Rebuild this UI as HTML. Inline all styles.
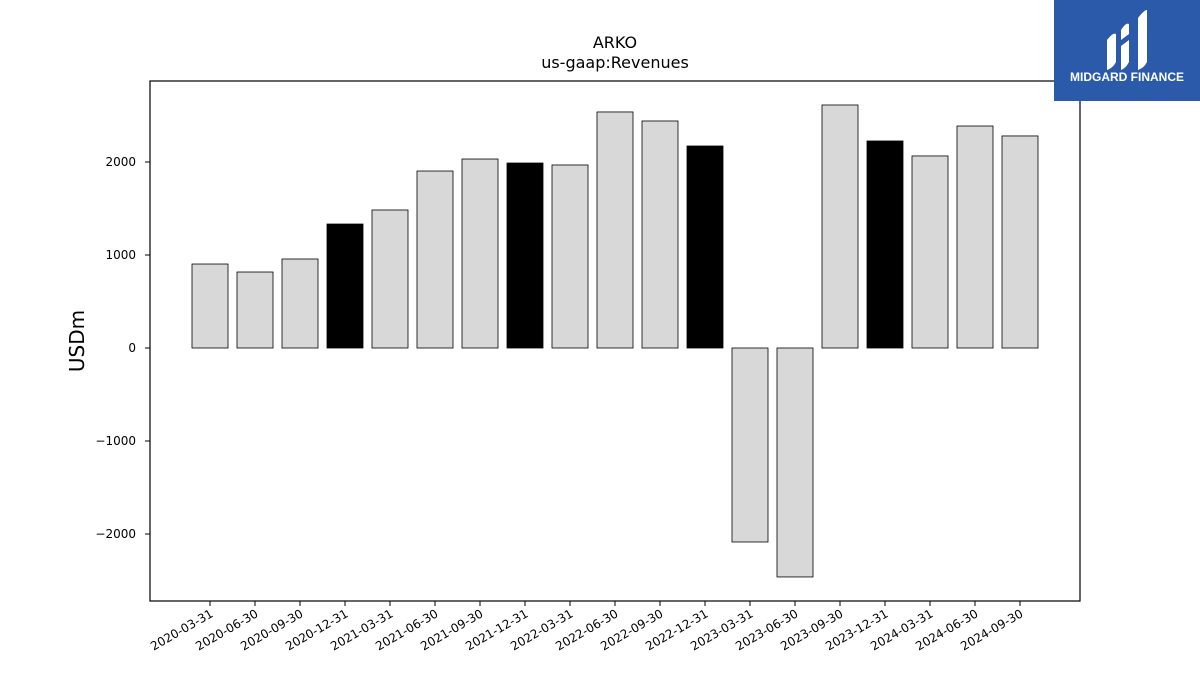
<!DOCTYPE html>
<html><head><meta charset="utf-8"><style>
body{margin:0;background:#fff;font-family:"Liberation Sans","DejaVu Sans",sans-serif}
</style></head><body>
<svg width="1200" height="675" xmlns="http://www.w3.org/2000/svg">
<rect width="1200" height="675" fill="#fff"/>
<text x="615" y="48" text-anchor="middle" font-size="16" font-family="DejaVu Sans, sans-serif">ARKO</text>
<text x="615" y="68" text-anchor="middle" font-size="16" font-family="DejaVu Sans, sans-serif">us-gaap:Revenues</text>
<text transform="translate(84,341) rotate(-90)" text-anchor="middle" font-size="20" font-family="DejaVu Sans, sans-serif">USDm</text>
<g id="bars"></g>
<g id="axes"></g>
<rect x="150" y="81" width="930" height="520" fill="none" stroke="#000" stroke-width="1.2"/>
<g>
<rect x="1054" y="0" width="146" height="101" fill="#2b5aab"/>
<path d="M1107 40 q6-8 9-6 v28 q-3 6-9 8 z M1121 30 q5-8 8-6 v10 l-8 6z M1121 46 l8-6 v22 q-3 6-8 8z M1138 18 q6-8 9-8 v52 q-3 6-9 8z" fill="#fff"/>
<text x="1127" y="81" text-anchor="middle" font-size="12" font-weight="bold" fill="#fff">MIDGARD FINANCE</text>
</g>
</svg>
<script>
const categories=["2020-03-31","2020-06-30","2020-09-30","2020-12-31","2021-03-31","2021-06-30","2021-09-30","2021-12-31","2022-03-31","2022-06-30","2022-09-30","2022-12-31","2023-03-31","2023-06-30","2023-09-30","2023-12-31","2024-03-31","2024-06-30","2024-09-30"];
const values=[903,817,957,1333,1484,1903,2032,1989,1968,2538,2441,2172,-2086,-2462,2613,2226,2065,2387,2280];
const highlighted=[false,false,false,true,false,false,false,true,false,false,false,true,false,false,false,true,false,false,false];
const yTicks=[-2000,-1000,0,1000,2000];
const yTickLabels=["\u22122000","\u22121000","0","1000","2000"];
const NS="http://www.w3.org/2000/svg";
const y=v=>348-v*0.093;
const x=i=>210+i*45;
const bars=document.getElementById('bars'),axes=document.getElementById('axes');
function mk(t,a,p){const e=document.createElementNS(NS,t);for(const k in a)e.setAttribute(k,a[k]);p.appendChild(e);return e;}
values.forEach((v,i)=>{
 const r=mk('rect',{x:x(i)-18,y:Math.min(y(v),y(0)),width:36,height:Math.abs(y(v)-y(0)),fill:highlighted[i]?'#000':'#d8d8d8',stroke:'#000','stroke-width':0.8},bars);
 
 
 const tk=mk('line',{x1:x(i),x2:x(i),y1:601,y2:606,stroke:'#000'},axes);
 
 
 const t=mk('text',{transform:`translate(${x(i)+4},616) rotate(-30)`,'text-anchor':'end','font-size':12,'font-family':'DejaVu Sans, sans-serif'},axes);
 t.textContent=categories[i];
 
 
});
yTicks.forEach((v,i)=>{
 const tk=mk('line',{x1:145,x2:150,y1:y(v),y2:y(v),stroke:'#000'},axes);
 
 
 const t=mk('text',{x:136,y:y(v)+4,'text-anchor':'end','font-size':12,'font-family':'DejaVu Sans, sans-serif'},axes);
 t.textContent=yTickLabels[i];
 
 
});
</script>
</body></html>
